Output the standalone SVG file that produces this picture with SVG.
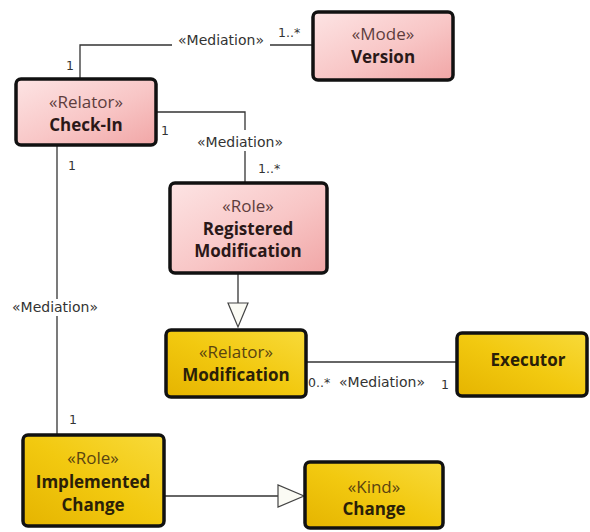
<svg xmlns="http://www.w3.org/2000/svg" width="590" height="532" viewBox="0 0 590 532">
  <defs>
    <linearGradient id="pinkFill" x1="0" y1="0" x2="1" y2="1">
      <stop offset="0" stop-color="#fde4e4"/>
      <stop offset="0.55" stop-color="#f8c6c6"/>
      <stop offset="1" stop-color="#f1a6a6"/>
    </linearGradient>
    <linearGradient id="yellowFill" x1="0" y1="1" x2="1" y2="0">
      <stop offset="0" stop-color="#e5b400"/>
      <stop offset="0.5" stop-color="#f2c910"/>
      <stop offset="1" stop-color="#f8da3a"/>
    </linearGradient>
    <style>
      .box { stroke: #111; stroke-width: 3.5; }
      .pink { fill: url(#pinkFill); }
      .yellow { fill: url(#yellowFill); }
      .stereo { font-family: "Open Sans", "Noto Sans", sans-serif; font-size: 17px; text-anchor: middle; }
      .name { font-family: "Open Sans", "Noto Sans", sans-serif; font-size: 17px; font-weight: bold; text-anchor: middle; }
      .pink-t { fill: #5e3d3d; }
      .pink-n { fill: #2a1818; }
      .yel-t { fill: #5a4410; }
      .yel-n { fill: #2a2008; }
      .edge { fill: none; stroke: #333; stroke-width: 1.3; }
      .gen { fill: #fbfbf4; stroke: #444; stroke-width: 1.2; }
      .lbl { font-family: "DejaVu Sans", sans-serif; font-size: 14px; fill: #333; }
      .mult { font-family: "DejaVu Sans", sans-serif; font-size: 12.5px; fill: #333; }
    </style>
  </defs>
  <rect width="590" height="532" fill="#ffffff"/>

  <g id="connectors">
    <!-- Check-In to Version -->
    <polyline class="edge" points="80,79 80,45 172,45"/>
    <line class="edge" x1="270" y1="45" x2="313" y2="45"/>
    <text class="lbl" x="221" y="45" text-anchor="middle">«Mediation»</text>
    <text class="mult" x="278" y="37">1..*</text>
    <text class="mult" x="66" y="70">1</text>

    <!-- Check-In to Registered Modification -->
    <polyline class="edge" points="156,112 245,112 245,130"/>
    <line class="edge" x1="245" y1="151" x2="245" y2="183"/>
    <text class="lbl" x="240" y="147" text-anchor="middle">«Mediation»</text>
    <text class="mult" x="161" y="135">1</text>
    <text class="mult" x="258" y="173">1..*</text>

    <!-- Check-In to Implemented Change -->
    <line class="edge" x1="57" y1="145" x2="57" y2="299"/>
    <line class="edge" x1="57" y1="316" x2="57" y2="435"/>
    <text class="lbl" x="55" y="312" text-anchor="middle">«Mediation»</text>
    <text class="mult" x="68" y="170">1</text>
    <text class="mult" x="69" y="424">1</text>

    <!-- Registered Modification generalizes Modification -->
    <line class="edge" x1="238" y1="273" x2="238" y2="303"/>
    <polygon class="gen" points="228,303 248,303 238,327"/>

    <!-- Modification to Executor -->
    <line class="edge" x1="306" y1="362" x2="457" y2="362"/>
    <text class="mult" x="308" y="387">0..*</text>
    <text class="lbl" x="382" y="387" text-anchor="middle">«Mediation»</text>
    <text class="mult" x="441" y="389">1</text>

    <!-- Implemented Change generalizes Change -->
    <line class="edge" x1="164" y1="496" x2="278" y2="496"/>
    <polygon class="gen" points="278,485 278,507 304,496"/>
  </g>

  <g id="version">
    <rect class="box pink" x="313" y="12" width="140" height="68" rx="5"/>
    <text class="stereo pink-t" x="383" y="40">«Mode»</text>
    <text class="name pink-n" x="383" y="63">Version</text>
  </g>

  <g id="check-in">
    <rect class="box pink" x="16" y="79" width="140" height="66" rx="5"/>
    <text class="stereo pink-t" x="86" y="108">«Relator»</text>
    <text class="name pink-n" x="86" y="131">Check-In</text>
  </g>

  <g id="registered-modification">
    <rect class="box pink" x="170" y="183" width="157" height="90" rx="5"/>
    <text class="stereo pink-t" x="248" y="212">«Role»</text>
    <text class="name pink-n" x="248" y="235">Registered</text>
    <text class="name pink-n" x="248" y="257">Modification</text>
  </g>

  <g id="modification">
    <rect class="box yellow" x="166" y="330" width="140" height="67" rx="5"/>
    <text class="stereo yel-t" x="236" y="358">«Relator»</text>
    <text class="name yel-n" x="236" y="381">Modification</text>
  </g>

  <g id="executor">
    <rect class="box yellow" x="457" y="333" width="130" height="63" rx="5"/>
    <text class="name yel-n" x="528" y="366">Executor</text>
  </g>

  <g id="implemented-change">
    <rect class="box yellow" x="23" y="435" width="141" height="91" rx="5"/>
    <text class="stereo yel-t" x="93" y="464">«Role»</text>
    <text class="name yel-n" x="93" y="488">Implemented</text>
    <text class="name yel-n" x="93" y="511">Change</text>
  </g>

  <g id="change">
    <rect class="box yellow" x="305" y="462" width="138" height="66" rx="5"/>
    <text class="stereo yel-t" x="374" y="493">«Kind»</text>
    <text class="name yel-n" x="374" y="515">Change</text>
  </g>
</svg>
